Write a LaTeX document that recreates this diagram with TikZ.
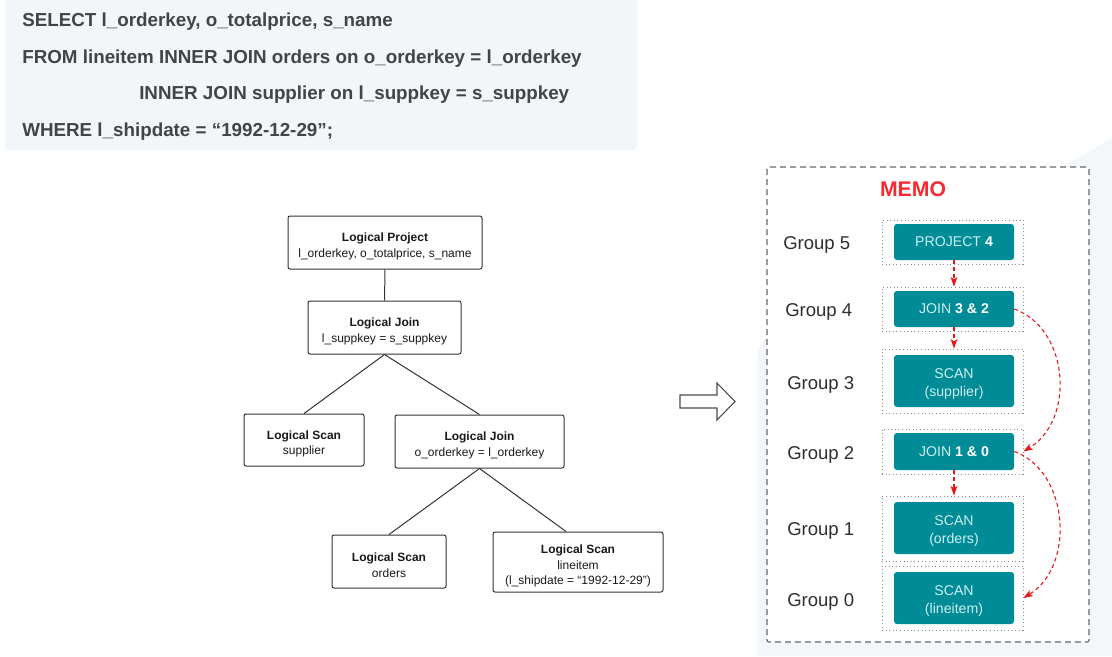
\documentclass[tikz,border=0pt]{standalone}
\usepackage{fontspec}
\setmainfont{Liberation Sans}
\usetikzlibrary{arrows.meta,calc}
\definecolor{sqlbg}{HTML}{F3F6F8}
\definecolor{sqltext}{HTML}{404549}
\definecolor{memoteal}{HTML}{008C96}
\definecolor{tealtext}{HTML}{CDEFF2}
\definecolor{memored}{HTML}{FA2830}
\definecolor{arrred}{HTML}{E8151B}
\definecolor{bgfaint}{HTML}{F4F7F9}
\definecolor{boxline}{HTML}{333333}
\newcommand\memonum[1]{\textcolor{white}{\bfseries #1}}
\newcommand\treestrut{\rule{0pt}{12.4pt}}
\newcommand\tealstrut{\rule{0pt}{12pt}}
\begin{document}
\begin{tikzpicture}[x=0.75pt,y=-0.75pt,
  sql/.style={font=\fontsize{14.1pt}{16pt}\selectfont\bfseries, text=sqltext, inner sep=0pt, anchor=base west},
  tbox/.style={draw=boxline, line width=0.75pt, rounded corners=1.5pt, fill=white, align=center,
     font=\fontsize{9pt}{11.8pt}\selectfont, text=black!90, inner sep=0pt},
  conn/.style={draw=boxline, line width=0.75pt},
  grp/.style={font=\fontsize{13.9pt}{16pt}\selectfont, text=black!82, anchor=base west, inner sep=0pt},
  dotbox/.style={draw=black!45, dotted, line width=0.7pt, minimum width=141*0.75pt, inner sep=0pt},
  tealbox/.style={fill=memoteal, rounded corners=2.2pt, minimum width=120*0.75pt, inner sep=0pt,
     align=center, text=tealtext, font=\fontsize{10.6pt}{13.5pt}\selectfont},
  redarr/.style={draw=arrred, line width=0.8pt, dash pattern=on 3pt off 2.2pt,
     -{Stealth[length=7pt,width=5pt,inset=1.5pt]}}
]
\useasboundingbox (0,0) rectangle (1112,656);
% faint background on the right
\fill[bgfaint] (757,656) -- (757,362) .. controls (757,345) and (765,336) .. (780,328) -- (1112,138) -- (1112,656) -- cycle;
% SQL panel
\fill[sqlbg, rounded corners=3pt] (5,-6) rectangle (637,150);
\node[sql] (s1) at (22,27) {SELECT l\_orderkey, o\_totalprice, s\_name};
\node[sql] (s2) at (22,64) {FROM lineitem INNER JOIN orders on o\_orderkey = l\_orderkey};
\node[sql] (s3) at (139,100) {INNER JOIN supplier on l\_suppkey = s\_suppkey};
\node[sql] (s4) at (22,137) {WHERE l\_shipdate = “1992-12-29”;};

% logical plan tree
\node[tbox, minimum width=194*0.75pt, minimum height=53*0.75pt] (proj) at (385,242.5)
  {\treestrut\textbf{Logical Project}\\l\_orderkey, o\_totalprice, s\_name};
\node[tbox, minimum width=153*0.75pt, minimum height=53*0.75pt] (join1) at (384.5,327.5)
  {\treestrut\textbf{Logical Join}\\l\_suppkey = s\_suppkey};
\node[tbox, minimum width=120*0.75pt, minimum height=52*0.75pt] (supp) at (304,440)
  {\treestrut\textbf{Logical Scan}\\supplier};
\node[tbox, minimum width=169*0.75pt, minimum height=53*0.75pt] (join2) at (479.5,441.5)
  {\treestrut\textbf{Logical Join}\\o\_orderkey = l\_orderkey};
\node[tbox, minimum width=114*0.75pt, minimum height=53*0.75pt] (ord) at (389,561.5)
  {\treestrut\textbf{Logical Scan}\\orders};
\node[tbox, minimum width=170*0.75pt, minimum height=60*0.75pt] (line) at (578,562)
  {\treestrut\textbf{Logical Scan}\\lineitem\\(l\_shipdate = “1992-12-29”)};
\draw[conn] (proj) -- (join1);
\draw[conn] (join1.south) -- (supp.north);
\draw[conn] (join1.south) -- (join2.north);
\draw[conn] (join2.south) -- (ord.north);
\draw[conn] (join2.south) -- ($(line.north)+(-12,0)$);

% hollow arrow
\draw[draw=black!70, line width=0.8pt, fill=white, line join=miter]
  (680,395) -- (717,395) -- (717,383) -- (735,401.5) -- (717,420) -- (717,408) -- (680,408) -- cycle;

% MEMO panel
\draw[draw=black!60, line width=0.9pt, dash pattern=on 4.5pt off 3pt, rounded corners=1.5pt, fill=white]
  (767,167) rectangle (1089,642);
\node[font=\fontsize{15.9pt}{18pt}\selectfont\bfseries, text=memored, inner sep=0pt] (memo) at (913,189) {MEMO};

\node[grp] (g5) at (783,249.6) {Group 5};
\node[grp] (g4) at (785,316.6) {Group 4};
\node[grp] (g3) at (787,389.6) {Group 3};
\node[grp] (g2) at (787,459.6) {Group 2};
\node[grp] (g1) at (787,535.6) {Group 1};
\node[grp] (g0) at (787,606.6) {Group 0};

\node[dotbox, minimum height=44*0.75pt] (d5) at (952.5,242) {};
\node[dotbox, minimum height=44*0.75pt] (d4) at (952.5,309) {};
\node[dotbox, minimum height=64*0.75pt] (d3) at (952.5,381) {};
\node[dotbox, minimum height=45*0.75pt] (d2) at (952.5,451.5) {};
\node[dotbox, minimum height=65*0.75pt] (d1) at (952.5,528.5) {};
\node[dotbox, minimum height=64*0.75pt] (d0) at (952.5,598) {};

\node[tealbox, minimum height=36*0.75pt] (t5) at (954,242) {PROJECT \memonum{4}};
\node[tealbox, minimum height=36*0.75pt] (t4) at (954,309) {JOIN \memonum{3 \& 2}};
\node[tealbox, minimum height=52*0.75pt] (t3) at (954,381) {\tealstrut SCAN\\(supplier)};
\node[tealbox, minimum height=37*0.75pt] (t2) at (954,451.5) {JOIN \memonum{1 \& 0}};
\node[tealbox, minimum height=52*0.75pt] (t1) at (954,528) {\tealstrut SCAN\\(orders)};
\node[tealbox, minimum height=52*0.75pt] (t0) at (954,598) {\tealstrut SCAN\\(lineitem)};

\draw[redarr] (t5.south) -- (t5.south |- d4.north);
\draw[redarr] (t4.south) -- (t4.south |- d3.north);
\draw[redarr] (t2.south) -- (t2.south |- d1.north);
\draw[redarr] (t4.east) .. controls +(55,20) and +(52,-32) .. (d2.east);
\draw[redarr] (t2.east) .. controls +(55,20) and +(52,-32) .. (d0.east);
\end{tikzpicture}
\end{document}
